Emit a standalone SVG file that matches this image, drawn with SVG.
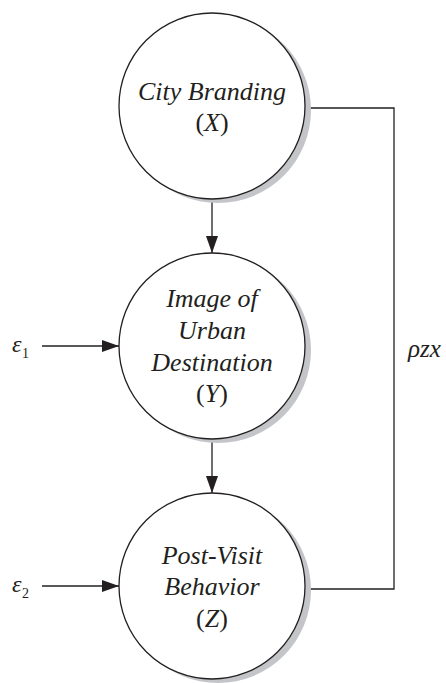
<svg xmlns="http://www.w3.org/2000/svg" width="446" height="683" viewBox="0 0 446 683">
<style>
.sh{fill:#c3c5c9;stroke:none}
.c{fill:#ffffff;stroke:#231f20;stroke-width:1.3}
.t{font-family:"Liberation Serif","Times New Roman",serif;font-style:italic;font-size:26px;fill:#231f20;text-anchor:middle}
.u{font-style:normal}
.ln{fill:none;stroke:#231f20;stroke-width:1.3}
.e{font-family:"Liberation Serif","Times New Roman",serif;font-style:italic;font-size:24px;fill:#231f20}
.s{font-family:"Liberation Serif","Times New Roman",serif;font-size:14px;fill:#231f20}
</style>
<defs>
<marker id="ah" markerWidth="17" markerHeight="12" refX="17" refY="6" orient="auto" markerUnits="userSpaceOnUse">
<path d="M0,0 L17,6 L0,12 Z" fill="#231f20"/>
</marker>
</defs>
<g id="connectors">
<line class="ln" x1="212" y1="199" x2="212" y2="253" marker-end="url(#ah)"/>
<line class="ln" x1="212" y1="439" x2="212" y2="493" marker-end="url(#ah)"/>
<line class="ln" x1="42" y1="346" x2="119" y2="346" marker-end="url(#ah)"/>
<line class="ln" x1="42" y1="586" x2="119" y2="586" marker-end="url(#ah)"/>
<polyline class="ln" points="305,108 394,108 394,589 305,589"/>
</g>
<g id="nodeX">
<circle class="sh" cx="218" cy="110" r="93"/>
<circle class="c" cx="212" cy="106" r="93"/>
<text class="t" x="212" y="99.5">City Branding</text>
<text class="t" x="212" y="131"><tspan class="u">(</tspan>X<tspan class="u">)</tspan></text>
</g>
<g id="nodeY">
<circle class="sh" cx="218" cy="350" r="93"/>
<circle class="c" cx="212" cy="346" r="93"/>
<text class="t" x="212" y="307">Image of</text>
<text class="t" x="212" y="338.5">Urban</text>
<text class="t" x="212" y="370.5">Destination</text>
<text class="t" x="212" y="402"><tspan class="u">(</tspan>Y<tspan class="u">)</tspan></text>
</g>
<g id="nodeZ">
<circle class="sh" cx="218" cy="590" r="93"/>
<circle class="c" cx="212" cy="586" r="93"/>
<text class="t" x="212" y="563.5">Post-Visit</text>
<text class="t" x="212" y="595">Behavior</text>
<text class="t" x="212" y="627"><tspan class="u">(</tspan>Z<tspan class="u">)</tspan></text>
</g>
<g id="e1">
<text class="e" x="12" y="352">ε</text>
<text class="s" x="22" y="358">1</text>
</g>
<g id="e2">
<text class="e" x="12" y="592">ε</text>
<text class="s" x="22" y="598">2</text>
</g>
<g id="rho">
<text class="e" x="408" y="357" style="font-size:25px">ρzx</text>
</g>
</svg>
